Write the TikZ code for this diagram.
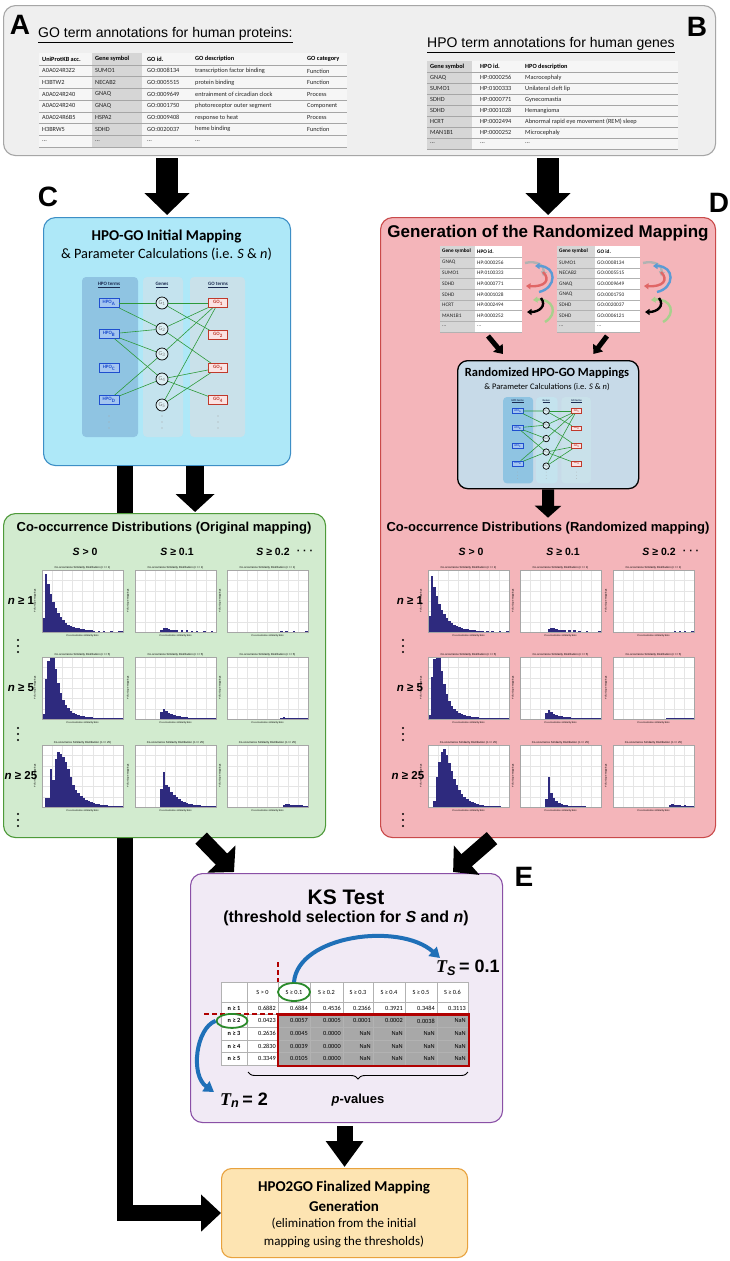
\documentclass[tikz,border=0pt]{standalone}
\usepackage{fontspec}
\setmainfont{Liberation Sans}
\newfontfamily\carl{Carlito}
\newfontfamily\lserif{Liberation Serif}
\usetikzlibrary{arrows.meta,decorations.pathreplacing,calc,shapes.geometric}
\newcommand\fs[1]{\fontsize{#1}{#1}\selectfont}
\definecolor{topfill}{HTML}{EFEFEF}
\definecolor{topdraw}{HTML}{A6A6A6}
\definecolor{cfill}{HTML}{AEE8F8}
\definecolor{cdraw}{HTML}{3D8FC6}
\definecolor{dfill}{HTML}{F4B5BA}
\definecolor{ddraw}{HTML}{C94A4A}
\definecolor{gfill}{HTML}{D2EBCF}
\definecolor{gdraw}{HTML}{4E9A3A}
\definecolor{ksfill}{HTML}{F1EAF5}
\definecolor{ksdraw}{HTML}{8A50A6}
\definecolor{ffill}{HTML}{FDE4B2}
\definecolor{fdraw}{HTML}{E8A23E}
\definecolor{rfill}{HTML}{C7DAE8}
\definecolor{hpocol}{HTML}{8FC4E2}
\definecolor{genecol}{HTML}{C4E3EE}
\definecolor{gocol}{HTML}{C9E1EA}
\definecolor{hpobox}{HTML}{A4C6F0}
\definecolor{hpotext}{HTML}{1F4FCF}
\definecolor{gobox}{HTML}{FBE3E3}
\definecolor{gotext}{HTML}{C0392B}
\definecolor{genefill}{HTML}{DDEFF4}
\definecolor{edgegreen}{HTML}{2E9A3A}
\definecolor{barcol}{HTML}{2E2A7E}
\definecolor{arrowblue}{HTML}{1F70B8}
\definecolor{darkred}{HTML}{B00000}
\definecolor{ellgreen}{HTML}{2A8A2A}
\definecolor{cellgray}{HTML}{A8A8A8}
\definecolor{genegray}{HTML}{D6D6D6}
\definecolor{tabfill}{HTML}{F6F6F6}
\definecolor{headnavy}{HTML}{1A2A50}
\definecolor{shblue}{HTML}{5B9BD5}
\definecolor{shred}{HTML}{E06666}
\definecolor{shgreen}{HTML}{A8D08D}
\tikzset{
 panel/.style={draw, line width=1.1pt, rounded corners=12pt, inner sep=0pt, anchor=north west},
 bigarrow/.style={draw=black, line width=22pt, -{Triangle[width=44pt,length=22pt]}},
 midarrow/.style={draw=black, line width=18pt, -{Triangle[width=38pt,length=18pt]}},
 diagarrow/.style={draw=black, line width=16pt, -{Triangle[width=38pt,length=18pt]}},
 longarrow/.style={draw=black, line width=16pt, line join=miter, -{Triangle[width=36pt,length=20pt]}},
 smallarrow/.style={draw=black, line width=5pt, -{Triangle[width=12pt,length=8pt]}},
 downarrow/.style={draw=black, line width=12pt, -{Triangle[width=26pt,length=12pt]}},
 bluearrow/.style={draw=arrowblue, line width=4pt, -{Triangle[width=12pt,length=10pt]}},
 shuf/.style={line width=2.4pt, -{Triangle[width=6pt,length=4.5pt]}},
 letter/.style={font=\bfseries\fs{28}},
 th/.style={font=\carl\bfseries\fs{6.3}, anchor=west},
 td/.style={font=\carl\fs{6.3}, anchor=west, text=black!85},
 dth/.style={font=\carl\bfseries\fs{5.3}, anchor=west},
 dtd/.style={font=\carl\fs{5.3}, anchor=west, text=black!85},
 nethead/.style={font=\carl\bfseries\fs{5}, text=headnavy},
 hpob/.style={draw=hpotext, fill=hpobox, line width=0.6pt, minimum width=20pt, minimum height=9pt, font=\carl\bfseries\fs{5}, text=hpotext},
 gob/.style={draw=gotext, fill=gobox, line width=0.6pt, minimum width=19pt, minimum height=9pt, font=\carl\bfseries\fs{5}, text=gotext},
 geneb/.style={circle, draw=black, line width=0.7pt, fill=genefill, minimum size=12pt, font=\carl\fs{6}, text=gray},
 edge/.style={draw=edgegreen, line width=0.6pt},
 colhead/.style={font=\bfseries\fs{10.5}},
 rowlab/.style={font=\bfseries\fs{11.5}},
 kshead/.style={font=\carl\fs{6.3}},
 kslab/.style={font=\carl\bfseries\fs{6.3}},
 kscell/.style={font=\carl\fs{6.3}, anchor=east},
 ell/.style={ellipse, draw=ellgreen, line width=1.8pt},
}
\newcommand\network[1]{%
  \fill[hpocol, rounded corners=4pt] (0,0) rectangle (56,160);
  \fill[genecol, rounded corners=4pt] (61,0) rectangle (101,160);
  \fill[gocol, rounded corners=4pt] (108,0) rectangle (163,160);
  \node[nethead] (#1hh) at (27,8) {\underline{HPO terms}};
  \node[nethead] (#1gh) at (80,8) {\underline{Genes}};
  \node[nethead] (#1oh) at (136,8) {\underline{GO terms}};
  \foreach \ll/\yy in {A/26,B/57,C/91,D/123}
    \node[hpob] (#1h\ll) at (27,\yy) {HPO\textsubscript{\ll}};
  \foreach \ll/\yy in {1/26,2/52,3/77,4/102,5/128}
    \node[geneb] (#1g\ll) at (80,\yy) {G\textsubscript{\ll}};
  \foreach \ll/\yy in {1/26,2/58,3/91,4/123}
    \node[gob] (#1o\ll) at (136,\yy) {GO\textsubscript{\ll}};
  \foreach \ua/\ub in {hA/g1,hA/g2,hB/g2,hB/g3,hB/g4,hD/g3,hD/g4,g1/o1,g1/o2,g2/o1,g2/o3,g3/o1,g4/o3,g4/o4,g5/o1,g5/o3}
    \draw[edge] (#1\ua) -- (#1\ub);
  \foreach \xx in {27,80,136} \foreach \yy in {139,145,151} \fill[gray!70] (\xx,\yy) circle (0.6pt);
}
\newcommand\histo[5]{%
  \fill[white] (#2,#3) rectangle ++(81,62);
  \foreach \k in {1,...,7} \draw[gray!20, line width=0.2pt] ({#2+\k*81/8},#3) -- ++(0,62);
  \foreach \k in {1,...,5} \draw[gray!20, line width=0.2pt] (#2,{#3+\k*62/6}) -- ++(81,0);
  \foreach \h [count=\i from 0] in {#5} \fill[barcol] ({#2+\i*81/32},{#3+62}) rectangle ++({81/32},{-\h});
  \draw[gray!70, line width=0.3pt] (#2,#3) rectangle ++(81,62);
  \node[font=\fs{2.8}] (#1t) at ({#2+40.5},{#3-2.5}) {Co-occurrence Similarity Distribution (n >= #4)};
  \node[font=\fs{2.5}] (#1x) at ({#2+40.5},{#3+66}) {Co-occurrence similarity bins};
  \node[font=\fs{2.5}, rotate=90] (#1y) at ({#2-7},{#3+31}) {\# of unique mappings};
}
\newcommand\shuffle{%
  \draw[shuf, draw=gray!60] (2,1) .. controls (14,-2) and (22,4) .. (20,14);
  \draw[shuf, draw=shblue] (16,30) .. controls (34,26) and (34,4) .. (12,4);
  \draw[shuf, draw=shred] (20,10) .. controls (28,18) and (22,25) .. (3,24);
  \draw[shuf, draw=shgreen] (22,60) .. controls (36,52) and (30,36) .. (10,38);
  \draw[shuf, draw=black] (18,36) .. controls (24,44) and (16,50) .. (4,50);
}
\newcommand\vdotsat[2]{\foreach \yy in {0,6,12} \fill (#1,{#2+\yy}) circle (1.2pt);}
\begin{document}
\begin{tikzpicture}[x=1pt,y=-1pt, every node/.style={inner sep=0pt}]
\useasboundingbox[fill=white] (0,0) rectangle (730,1261);

%% ---------------- top panel A/B
\node[panel, draw=topdraw, fill=topfill, minimum width=712pt, minimum height=150pt] (topbox) at (3,5) {};
\node[letter] (lA) at (20,25) {A};
\node[letter] (lB) at (697,27) {B};
\node[font=\fs{14}, anchor=west] (tA) at (38,35) {\underline{GO term annotations for human proteins:}};
\node[font=\fs{14}, anchor=west] (tB) at (427,45) {\underline{HPO term annotations for human genes}};
% table A
\fill[tabfill] (39,53) rectangle (347,147);
\fill[genegray] (92,53) rectangle (142,147);
\foreach \k in {0,...,7} \draw[gray!70, line width=0.5pt] (39,{65+11.7*\k}) -- (347,{65+11.7*\k});
\node[th] (a01) at (42,59) {UniProtKB acc.};
\node[th] (a02) at (95,59) {Gene symbol};
\node[th] (a03) at (147,59) {GO id.};
\node[th] (a04) at (195,59) {GO description};
\node[th] (a05) at (307,59) {GO category};
\foreach \va/\vb/\vc/\vd/\ve [count=\i] in {A0A024R3Z2/SUMO1/GO:0008134/transcription factor binding/Function,
  H3BTW2/NECAB2/GO:0005515/protein binding/Function,
  A0A024R240/GNAQ/GO:0009649/entrainment of circadian clock/Process,
  A0A024R240/GNAQ/GO:0001750/photoreceptor outer segment/Component,
  A0A024R6B5/HSPA2/GO:0009408/response to heat/Process,
  H3BRW5/SDHD/GO:0020037/heme binding/Function} {
  \pgfmathsetmacro\yy{59.15+11.7*\i}
  \node[td] (a\i1) at (42,\yy) {\va};
  \node[td] (a\i2) at (95,\yy) {\vb};
  \node[td] (a\i3) at (147,\yy) {\vc};
  \node[td] (a\i4) at (195,\yy) {\vd};
  \node[td] (a\i5) at (307,\yy) {\ve};
}
\node[td] (a71) at (42,141) {...};
\node[td] (a72) at (95,141) {...};
\node[td] (a73) at (147,141) {...};
\node[td] (a74) at (195,141) {...};
% table B
\fill[tabfill] (427,61) rectangle (678,149);
\fill[genegray] (427,61) rectangle (472,149);
\foreach \k in {0,...,7} \draw[gray!70, line width=0.5pt] (427,{72+11*\k}) -- (678,{72+11*\k});
\node[th] (b01) at (430,66.5) {Gene symbol};
\node[th] (b02) at (480,66.5) {HPO id.};
\node[th] (b03) at (525,66.5) {HPO description};
\foreach \va/\vb/\vc [count=\i] in {GNAQ/HP:0000256/Macrocephaly,
  SUMO1/HP:0100333/Unilateral cleft lip,
  SDHD/HP:0000771/Gynecomastia,
  SDHD/HP:0001028/Hemangioma,
  HCRT/HP:0002494/Abnormal rapid eye movement (REM) sleep,
  MAN1B1/HP:0000252/Microcephaly} {
  \pgfmathsetmacro\yy{66.5+11*\i}
  \node[td] (b\i1) at (430,\yy) {\va};
  \node[td] (b\i2) at (480,\yy) {\vb};
  \node[td] (b\i3) at (525,\yy) {\vc};
}
\node[td] (b71) at (430,143.5) {...};
\node[td] (b72) at (480,143.5) {...};
\node[td] (b73) at (525,143.5) {...};

%% ---------------- final box (defined early)
\node[panel, draw=fdraw, fill=ffill, minimum width=246pt, minimum height=89pt, rounded corners=10pt] (fbox) at (221,1168) {};
\node[font=\carl\bfseries\fs{15}] (f1) at (344,1187) {HPO2GO Finalized Mapping};
\node[font=\carl\bfseries\fs{15}] (f2) at (344,1206) {Generation};
\node[font=\carl\fs{13}] (f3) at (344,1224) {(elimination from the initial};
\node[font=\carl\fs{13}] (f4) at (344,1242) {mapping using the thresholds)};

%% ---------------- C panel
\node[letter] (lC) at (48,197) {C};
\node[panel, draw=cdraw, fill=cfill, minimum width=247pt, minimum height=248pt] (cbox) at (43,217) {};
\draw[bigarrow] ([yshift=-2pt]topbox.south -| cbox.north) -- ([yshift=2pt]cbox.north);
\node[font=\carl\bfseries\fs{15}] (ctit) at (166.5,236) {HPO-GO Initial Mapping};
\node[font=\carl\fs{14.3}] (csub) at (166.5,254) {\& Parameter Calculations (i.e. \textit{S} \& \textit{n})};
\begin{scope}[shift={(82,277)}]
  \network{c}
\end{scope}
% long arrow from C to final box
\draw[longarrow] ($(cbox.south)+(-42,0)$) |- (fbox.west);

%% ---------------- green panel
\node[panel, draw=gdraw, fill=gfill, minimum width=322pt, minimum height=324pt] (gbox) at (3,513) {};
\draw[midarrow] ($(cbox.south)+(28,0)$) -- ($(cbox.south |- gbox.north)+(28,-1)$);
\node[font=\bfseries\fs{13}] (gtit) at (164,528) {Co-occurrence Distributions (Original mapping)};
\node[colhead] (gc1) at (85,552) {\textit{S} > 0};
\node[colhead] (gc2) at (177,552) {\textit{S} ≥ 0.1};
\node[colhead] (gc3) at (273,552) {\textit{S} ≥ 0.2};
\node[colhead] (gc4) at (305,552) {· · ·};
\node[rowlab] (gr1) at (21,601) {\textit{n} ≥ 1};
\node[rowlab] (gr2) at (21,688) {\textit{n} ≥ 5};
\node[rowlab] (gr3) at (21,776) {\textit{n} ≥ 25};
\vdotsat{18}{640}
\vdotsat{18}{728}
\vdotsat{18}{814}
\histo{g11}{42}{570}{1}{14,58,48,38,30,24,19,15,12,9,7,6,5,4,4,3,3,2,2,2,1.5,0,1.5,0,1.5,0,0,1.5,0,0,1.5,1.5}
\histo{g12}{135}{570}{1}{0,0,0,0,0,0,0,0,0,0,2,4,4,3,2,2,2,0,2,0,2,0,1.5,0,1.5,0,0,1.5,0,0,1.5,0}
\histo{g13}{227}{570}{1}{0,0,0,0,0,0,0,0,0,0,0,0,0,0,0,0,0,0,0,0,0,1.5,0,1.5,0,0,1.5,0,0,0,0,1.5}
\histo{g21}{42}{657}{5}{5,40,58,62,62,50,36,26,19,14,11,8,6,5,4,3.5,3,2.5,2,2,1.5,1.5,1.5,1,1,1,1,1.5,1,1,1,1}
\histo{g22}{135}{657}{5}{0,0,0,0,0,0,0,0,0,0,7,10,8,6,5,4,3.5,3,2.5,2,2,1.5,1.5,1.5,1.5,1,1,1,1,1,1,1}
\histo{g23}{227}{657}{5}{0,0,0,0,0,0,0,0,0,0,0,0,0,0,0,0,0,0,0,0,0,1.5,2,1.5,1.5,1.5,1,1,1,1,1,1}
\histo{g31}{42}{745}{25}{0,9,9,38,27,48,55,53,50,45,38,30,22,17,14,11,9,7,6,5,4,3.5,3,2.5,2,2,1.5,1.5,1.5,1,1,1}
\histo{g32}{135}{745}{25}{0,0,0,0,0,0,0,0,0,0,18,35,22,20,15,12,10,8,6,5,4,3.5,3,2.5,2,2,1.5,1.5,1.5,1,1,1}
\histo{g33}{227}{745}{25}{0,0,0,0,0,0,0,0,0,0,0,0,0,0,0,0,0,0,0,0,0,0,2,3.5,3,2.5,2,2,2.5,2,1.5,1.5}

%% ---------------- D panel
\node[letter] (lD) at (719,203) {D};
\node[panel, draw=ddraw, fill=dfill, minimum width=335pt, minimum height=620pt] (dbox) at (380,217) {};
\draw[bigarrow] ([yshift=-2pt]topbox.south -| dbox.north) -- ([yshift=2pt]dbox.north);
\node[font=\bfseries\fs{17}] (dtit) at (548,233) {Generation of the Randomized Mapping};
% left small table
\fill[white] (440,246) rectangle (522,332);
\fill[genegray] (440,246) rectangle (475,332);
\foreach \k in {0,...,7} \draw[gray!60, line width=0.4pt] (440,{257+10.7*\k}) -- (522,{257+10.7*\k});
\node[dth] (dl01) at (442,251.5) {Gene symbol};
\node[dth] (dl02) at (477,251.5) {HPO id.};
\foreach \ua/\ub [count=\i] in {GNAQ/HP:0000256,SUMO1/HP:0100333,SDHD/HP:0000771,SDHD/HP:0001028,HCRT/HP:0002494,MAN1B1/HP:0000252} {
  \pgfmathsetmacro\yy{251.6+10.7*\i}
  \node[dtd] (dl\i1) at (442,\yy) {\ua};
  \node[dtd] (dl\i2) at (477,\yy) {\ub};
}
\node[dtd] (dl71) at (442,326.5) {...};
\node[dtd] (dl72) at (477,326.5) {...};
% right small table
\fill[white] (557,246) rectangle (640,332);
\fill[genegray] (557,246) rectangle (595,332);
\foreach \k in {0,...,7} \draw[gray!60, line width=0.4pt] (557,{257+10.7*\k}) -- (640,{257+10.7*\k});
\node[dth] (dr01) at (559,251.5) {Gene symbol};
\node[dth] (dr02) at (597,251.5) {GO id.};
\foreach \ua/\ub [count=\i] in {SUMO1/GO:0008134,NECAB2/GO:0005515,GNAQ/GO:0009649,GNAQ/GO:0001750,SDHD/GO:0020037,SDHD/GO:0006121} {
  \pgfmathsetmacro\yy{251.6+10.7*\i}
  \node[dtd] (dr\i1) at (559,\yy) {\ua};
  \node[dtd] (dr\i2) at (597,\yy) {\ub};
}
\node[dtd] (dr71) at (559,326.5) {...};
\node[dtd] (dr72) at (597,326.5) {...};
\begin{scope}[shift={(523,262)}] \shuffle \end{scope}
\begin{scope}[shift={(641,262)}] \shuffle \end{scope}
% randomized mapping box
\node[panel, draw=black, line width=1.3pt, fill=rfill, rounded corners=10pt, minimum width=181pt, minimum height=128pt] (rbox) at (457,360) {};
\coordinate (tabL) at (488,336);
\coordinate (tabR) at (607,336);
\draw[smallarrow] (tabL) -- ($(rbox.north west)+(46,-6)$);
\draw[smallarrow] (tabR) -- ($(rbox.north east)+(-46,-6)$);
\node[font=\carl\bfseries\fs{12.5}] (rtit) at (547,373) {Randomized HPO-GO Mappings};
\node[font=\carl\fs{8.5}] (rsub) at (547,387) {\& Parameter Calculations (i.e. \textit{S} \& \textit{n})};
\begin{scope}[shift={(503,397)}, scale=0.54, transform shape]
  \network{r}
\end{scope}
\node[font=\bfseries\fs{13}] (dctit) at (548,528) {Co-occurrence Distributions (Randomized mapping)};
\draw[downarrow] (rbox.south) -- ($(dctit.north)+(0,-4)$);
\node[colhead] (dc1) at (471,552) {\textit{S} > 0};
\node[colhead] (dc2) at (563,552) {\textit{S} ≥ 0.1};
\node[colhead] (dc3) at (659,552) {\textit{S} ≥ 0.2};
\node[colhead] (dc4) at (691,552) {· · ·};
\node[rowlab] (dr1) at (410,601) {\textit{n} ≥ 1};
\node[rowlab] (dr2) at (410,688) {\textit{n} ≥ 5};
\node[rowlab] (dr3) at (408,776) {\textit{n} ≥ 25};
\vdotsat{403}{640}
\vdotsat{403}{728}
\vdotsat{403}{814}
\histo{d11}{428}{570}{1}{16,56,45,36,28,22,18,14,11,9,7,6,5,4,3,3,2,2,2,1.5,1.5,1.5,0,1.5,0,1.5,0,0,1.5,0,0,1.5}
\histo{d12}{520}{570}{1}{0,0,0,0,0,0,0,0,0,0,0,3,4,4,3,2,2,2,0,2,0,2,0,1.5,0,0,1.5,0,0,0,0,1.5}
\histo{d13}{613}{570}{1}{0,0,0,0,0,0,0,0,0,0,0,0,0,0,0,0,0,0,0,0,0,0,0,0,1.5,0,1.5,0,1.5,0,0,1.5}
\histo{d21}{428}{657}{5}{4,42,60,62,62,48,35,25,18,13,10,8,6,5,4,3.5,3,2.5,2,2,1.5,1.5,1.5,1,1,1,1,1.5,1,1,1,1}
\histo{d22}{520}{657}{5}{0,0,0,0,0,0,0,0,0,0,6,9,7,5,4,3.5,3,2.5,2,2,1.5,1.5,1.5,1,1,1,1,1,1,1,1,1}
\histo{d23}{613}{657}{5}{0,0,0,0,0,0,0,0,0,0,0,0,0,0,0,0,0,0,0,0,0,1.5,1.5,1.5,1.5,1,1,1,1,1,1,1}
\histo{d31}{428}{745}{25}{0,0,6,30,45,55,58,52,44,36,28,22,17,13,10,8,6,5,4,3,2.5,2,1.5,1.5,1,1,1,1,1,0.5,0.5,0.5}
\histo{d32}{520}{745}{25}{0,0,0,0,0,0,0,0,0,0,8,30,14,9,6,4,3,2.5,2,1.5,1.5,1,1,1,1,1,0.5,0.5,0.5,0.5,0.5,0.5}
\histo{d33}{613}{745}{25}{0,0,0,0,0,0,0,0,0,0,0,0,0,0,0,0,0,0,0,0,0,0,2,3,2.5,2,2,1.5,2,1.5,1,1}

%% ---------------- KS panel
\node[letter] (lE) at (524,877) {E};
\node[panel, draw=ksdraw, fill=ksfill, minimum width=312pt, minimum height=249pt] (ksbox) at (190,873) {};
\draw[diagarrow] ($(gbox.south east)+(-125,0)$) -- ($(ksbox.north west)+(44,-1)$);
\draw[diagarrow] ($(dbox.south west)+(112,0)$) -- ($(ksbox.north east)+(-50,-1)$);
\node[font=\bfseries\fs{21}] (kstit) at (346,897) {KS Test};
\node[font=\bfseries\fs{16}] (kssub) at (346,918) {(threshold selection for \textit{S} and \textit{n})};
% table
\fill[white] (221,982) rectangle (468,1065);
\fill[cellgray] (278,1014.6) rectangle (468,1065);
\foreach \xx in {221,247,278,310,343,373,405,437,468} \draw[gray!60, line width=0.4pt] (\xx,982) -- (\xx,1065);
\foreach \yy in {982,1002,1014.6,1027.2,1039.8,1052.4,1065} \draw[gray!60, line width=0.4pt] (221,\yy) -- (468,\yy);
\foreach \hh/\xx [count=\j] in {S > 0/262.5,S ≥ 0.1/294,S ≥ 0.2/326.5,S ≥ 0.3/358,S ≥ 0.4/389,S ≥ 0.5/421,S ≥ 0.6/452.5}
  \node[kshead] (kh\j) at (\xx,992) {\hh};
\foreach \lab/\va/\vb/\vc/\vd/\ve/\vf/\vg [count=\i] in {n ≥ 1/0.6882/0.6884/0.4536/0.2366/0.3921/0.3484/0.3113,
  n ≥ 2/0.0423/0.0057/0.0005/0.0001/0.0002/0.0038/NaN,
  n ≥ 3/0.2636/0.0045/0.0000/NaN/NaN/NaN/NaN,
  n ≥ 4/0.2830/0.0039/0.0000/NaN/NaN/NaN/NaN,
  n ≥ 5/0.3349/0.0105/0.0000/NaN/NaN/NaN/NaN} {
  \pgfmathsetmacro\yy{1002+12.6*\i-6.3}
  \node[kslab] (kr\i) at (234,\yy) {\lab};
  \node[kscell] (k\i-1) at (276,\yy) {\va};
  \node[kscell] (k\i-2) at (308,\yy) {\vb};
  \node[kscell] (k\i-3) at (341,\yy) {\vc};
  \node[kscell] (k\i-4) at (371,\yy) {\vd};
  \node[kscell] (k\i-5) at (403,\yy) {\ve};
  \node[kscell] (k\i-6) at (435,\yy) {\vf};
  \node[kscell] (k\i-7) at (466,\yy) {\vg};
}
\draw[darkred, line width=2.6pt] (278,1014.6) rectangle (469,1066);
\draw[darkred, line width=1.8pt, dash pattern=on 5pt off 3pt] (278,962) -- (278,982);
\draw[darkred, line width=1.8pt, dash pattern=on 5pt off 3pt] (204,1014) -- (278,1014);
\node[ell, minimum width=32pt, minimum height=18pt] (ellS) at (294,992) {};
\node[ell, minimum width=31pt, minimum height=14pt] (elln) at (232,1020.9) {};
\node[font=\fs{18}, anchor=west] (TS) at (436,968) {{\lserif\bfseries\itshape T}\textsubscript{\bfseries\itshape S}\,{\bfseries = 0.1}};
\node[font=\fs{18}, anchor=west] (Tn) at (220,1100) {{\lserif\bfseries\itshape T}\textsubscript{\bfseries\itshape n}\,{\bfseries = 2}};
\coordinate (tsEnd) at (440,958);
\coordinate (tnEnd) at (214,1092);
\draw[bluearrow] (ellS.north) .. controls (298,935) and (400,922) .. (tsEnd);
\draw[bluearrow] (elln.west) .. controls (196,1028) and (190,1075) .. (tnEnd);
\draw[decorate, decoration={brace, amplitude=7pt}, line width=0.9pt] (468,1072) -- (248,1072);
\node[font=\bfseries\fs{13}] (pv) at (358,1100) {\textit{p}-values};
\draw[midarrow, line width=16pt, -{Triangle[width=36pt,length=26pt]}] ([yshift=-3pt]ksbox.south -| fbox.north) -- ([yshift=1pt]fbox.north);
\end{tikzpicture}
\end{document}
